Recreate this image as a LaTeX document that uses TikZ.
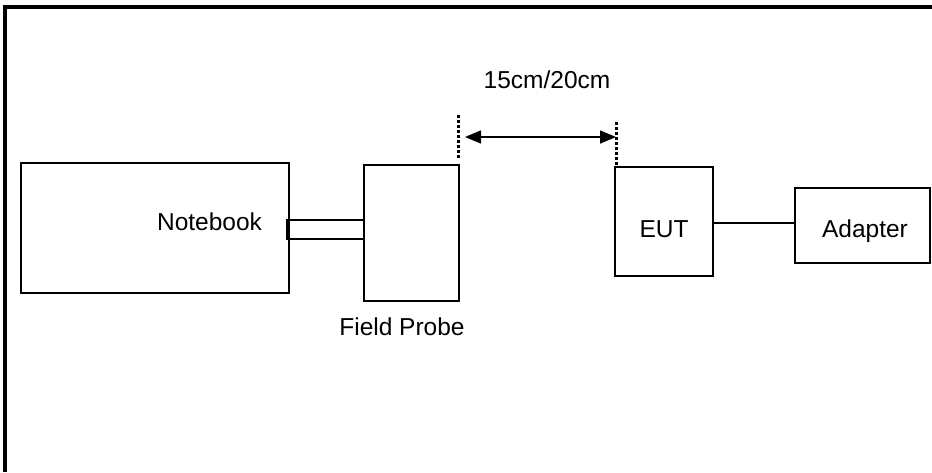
\documentclass[tikz,border=0pt]{standalone}
\usepackage{fontspec}
\setmainfont{Liberation Sans}
\usetikzlibrary{arrows.meta}
\begin{document}
\begin{tikzpicture}[x=1pt,y=-1pt,
  box/.style={draw=black,line width=1.5pt,inner sep=0pt,outer sep=0pt},
  lbl/.style={inner sep=0pt,anchor=base,font=\fontsize{24.5}{29}\selectfont},
  dotline/.style={line width=3pt,dash pattern=on 2.5pt off 2.5pt},
  frame/.style={line width=3.5pt}]
\useasboundingbox (0,0) rectangle (932,472);
% outer frame (top and left only)
\coordinate (ftr) at (932,7);
\coordinate (ftl) at (5,7);
\coordinate (fbl) at (5,472);
\draw[frame] (ftr) -- (ftl) -- (fbl);
% boxes
\node[box,minimum width=268pt,minimum height=130pt] (nb) at (155,228) {};
\node[box,line width=2pt,minimum width=77pt,minimum height=19pt] (con) at (325,229) {};
\node[box,minimum width=95pt,minimum height=136pt] (fp) at (411.5,233) {};
\node[box,minimum width=98pt,minimum height=109pt] (eut) at (664,221.5) {};
\node[box,minimum width=135pt,minimum height=75pt] (ad) at (862.5,225.5) {};
% labels
\node[lbl] (nbt) at (209.5,230) {Notebook};
\node[lbl] (fpt) at (402,335) {Field Probe};
\node[lbl] (eutt) at (664,237) {EUT};
\node[lbl] (adt) at (865,237) {Adapter};
\node[lbl] (dist) at (547,88) {15cm/20cm};
% EUT - adapter cable
\draw[line width=1.2pt] (eut.east |- 0,223) -- (ad.west |- 0,223);
% dotted markers
\coordinate (d1a) at (458.5,115);
\coordinate (d1b) at (458.5,158);
\coordinate (d2a) at (616,122);
\coordinate (d2b) at (616,165);
\draw[dotline] (d1a) -- (d1b);
\draw[dotline] (d2a) -- (d2b);
% distance arrow
\coordinate (al) at (465,137);
\coordinate (ar) at (616,137);
\draw[line width=1.5pt,{Triangle[length=16pt,width=13pt]}-{Triangle[length=16pt,width=13pt]}] (al) -- (ar);
\end{tikzpicture}
\end{document}
